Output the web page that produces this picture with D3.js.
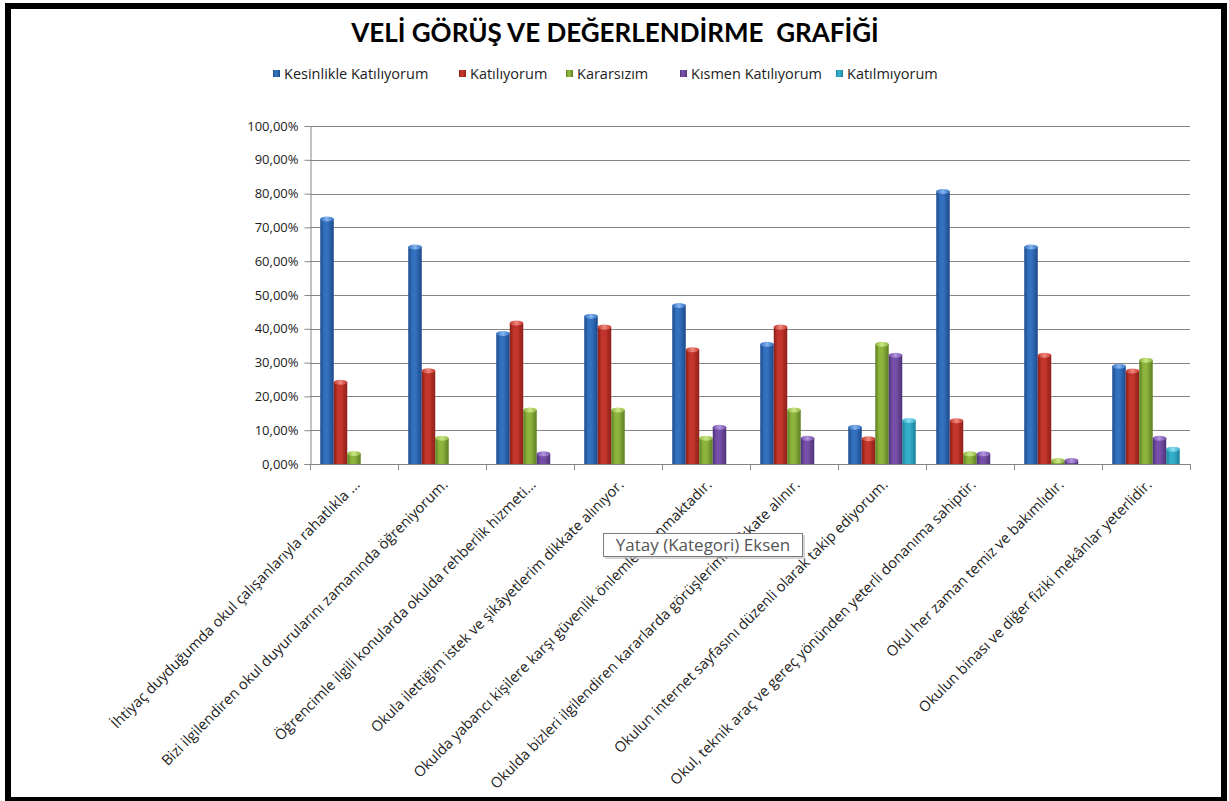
<!DOCTYPE html>
<html>
<head>
<meta charset="utf-8">
<script src="https://cdn.jsdelivr.net/npm/d3@7"></script>
<style>
  html, body { margin: 0; padding: 0; background: #fff; }
  svg { display: block; }
</style>
</head>
<body>
<svg id="chart" width="1229" height="801"></svg>
<script>
const title = "VELİ GÖRÜŞ VE DEĞERLENDİRME  GRAFİĞİ";
const categories = [
  "İhtiyaç duyduğumda okul çalışanlarıyla rahatlıkla ...",
  "Bizi ilgilendiren okul duyurularını zamanında öğreniyorum.",
  "Öğrencimle ilgili konularda okulda rehberlik hizmeti...",
  "Okula ilettiğim istek ve şikâyetlerim dikkate alınıyor.",
  "Okulda yabancı kişilere karşı güvenlik önlemleri alınmaktadır.",
  "Okulda bizleri ilgilendiren kararlarda görüşlerimiz dikkate alınır.",
  "Okulun internet sayfasını düzenli olarak takip ediyorum.",
  "Okul, teknik araç ve gereç yönünden yeterli donanıma sahiptir.",
  "Okul her zaman temiz ve bakımlıdır.",
  "Okulun binası ve diğer fiziki mekânlar yeterlidir."
];
const seriesNames = ["Kesinlikle Katılıyorum", "Katılıyorum", "Kararsızım", "Kısmen Katılıyorum", "Katılmıyorum"];
const kesinlikleKatiliyorum = [72.5, 64.2, 38.6, 43.7, 46.9, 35.4, 10.9, 80.6, 64.2, 28.9];
const katiliyorum           = [24.2, 27.6, 41.7, 40.5, 33.8, 40.5, 7.5, 12.8, 32.2, 27.5];
const kararsizim            = [3.1, 7.6, 16.0, 16.0, 7.6, 16.0, 35.4, 3.0, 1.0, 30.7];
const kismenKatiliyorum     = [0, 0, 3.0, 0, 10.9, 7.6, 32.2, 3.0, 1.0, 7.6];
const katilmiyorum          = [0, 0, 0, 0, 0, 0, 12.9, 0, 0, 4.4];
const yTicks = [0, 10, 20, 30, 40, 50, 60, 70, 80, 90, 100];
const tooltipText = "Yatay (Kategori) Eksen";

const seriesValues = [kesinlikleKatiliyorum, katiliyorum, kararsizim, kismenKatiliyorum, katilmiyorum];
const colors = ["#3470C0", "#C4352C", "#8DB43D", "#7650A8", "#33AFCB"];
const darks  = ["#1B4A8A", "#8A2018", "#5E7E23", "#4E3178", "#1C7F99"];
const lights = ["#86B4EE", "#EE8A80", "#CBE688", "#B094DC", "#8EDDEE"];

const svg = d3.select("#chart");
const font = "'Open Sans', Lato, sans-serif";

// frame
svg.append("rect").attr("x", 8).attr("y", 6).attr("width", 1216).attr("height", 794)
  .attr("fill", "#fff").attr("stroke", "#000").attr("stroke-width", 6);

// gradients
const defs = svg.append("defs");
seriesNames.forEach((s, i) => {
  const g = defs.append("linearGradient").attr("id", "grad" + i)
    .attr("x1", "0%").attr("x2", "100%").attr("y1", "0%").attr("y2", "0%");
  g.append("stop").attr("offset", "0%").attr("stop-color", darks[i]);
  g.append("stop").attr("offset", "30%").attr("stop-color", colors[i]);
  g.append("stop").attr("offset", "55%").attr("stop-color", colors[i]);
  g.append("stop").attr("offset", "100%").attr("stop-color", darks[i]);
  const c = defs.append("linearGradient").attr("id", "cap" + i)
    .attr("x1", "0%").attr("x2", "100%").attr("y1", "0%").attr("y2", "0%");
  c.append("stop").attr("offset", "0%").attr("stop-color", colors[i]);
  c.append("stop").attr("offset", "50%").attr("stop-color", lights[i]);
  c.append("stop").attr("offset", "100%").attr("stop-color", colors[i]);
});

const plotLeft = 310, plotRight = 1190, plotTop = 126, plotBottom = 464;
const x0 = d3.scaleBand().domain(categories).range([plotLeft, plotRight]).paddingInner(0).paddingOuter(0);
const x1 = d3.scaleBand().domain(seriesNames).range([0, x0.bandwidth()]).paddingInner(0).paddingOuter(0.76);
const y = d3.scaleLinear().domain([0, 100]).range([plotBottom, plotTop]);

// title
svg.append("text").attr("x", 615).attr("y", 42).attr("text-anchor", "middle")
  .attr("font-family", "Lato, 'Open Sans', sans-serif").attr("font-weight", "bold").attr("font-size", 26)
  .attr("fill", "#000").style("white-space", "pre").text(title);

// legend
const legendX = [273, 459, 566, 680, 836];
const lg = svg.append("g");
seriesNames.forEach((s, i) => {
  const it = lg.append("g").attr("transform", `translate(${legendX[i]},74)`);
  it.append("rect").attr("x", 0).attr("y", -4).attr("width", 7).attr("height", 7)
    .attr("fill", `url(#grad${i})`);
  it.append("text").attr("x", 11).attr("y", 4.5).attr("font-family", font)
    .attr("font-size", 14.5).attr("fill", "#222").text(s);
});

// gridlines
svg.append("g").selectAll("line").data(yTicks).join("line")
  .attr("x1", plotLeft).attr("x2", plotRight)
  .attr("y1", d => Math.round(y(d)) + 0.5).attr("y2", d => Math.round(y(d)) + 0.5)
  .attr("stroke", "#868686").attr("stroke-width", 1);

// y axis
const yAxis = d3.axisLeft(y).tickValues(yTicks).tickSize(6).tickPadding(6)
  .tickFormat(d => d3.format(".2f")(d).replace(".", ",") + "%");
const ya = svg.append("g").attr("transform", `translate(${plotLeft + 0.5},0)`).call(yAxis);
ya.select(".domain").attr("stroke", "#868686");
ya.selectAll(".tick line").attr("stroke", "#868686");
ya.selectAll(".tick text").attr("font-family", font).attr("font-size", 13).attr("fill", "#222");

// x axis line + ticks between categories
svg.append("line").attr("x1", plotLeft).attr("x2", plotRight)
  .attr("y1", Math.round(plotBottom) + 0.5).attr("y2", Math.round(plotBottom) + 0.5).attr("stroke", "#868686");
const boundaries = categories.map(c => x0(c)).concat([plotRight]);
svg.append("g").selectAll("line").data(boundaries).join("line")
  .attr("x1", d => Math.round(d) + 0.5).attr("x2", d => Math.round(d) + 0.5)
  .attr("y1", plotBottom).attr("y2", plotBottom + 6).attr("stroke", "#868686");

// bars
const barsG = svg.append("g");
categories.forEach((c, ci) => {
  seriesNames.forEach((s, si) => {
    const v = seriesValues[si][ci];
    if (!v) return;
    const bx = x0(c) + x1(s);
    const bw = x1.bandwidth();
    const capR = 2.5;
    barsG.append("rect").attr("x", bx).attr("y", y(v)).attr("width", bw)
      .attr("height", y(0) - y(v)).attr("fill", `url(#grad${si})`);
    barsG.append("ellipse").attr("cx", bx + bw / 2).attr("cy", y(v)).attr("rx", bw / 2).attr("ry", capR)
      .attr("fill", `url(#cap${si})`);
  });
});

// category labels
const angle = -45;
svg.append("g").selectAll("text").data(categories).join("text")
  .attr("transform", d => `translate(${x0(d) + x0.bandwidth() / 2 + 3},${plotBottom + 18}) rotate(${angle})`)
  .attr("text-anchor", "end").attr("dy", "0.35em")
  .attr("font-family", font).attr("font-size", 14.6).attr("fill", "#222")
  .text(d => d);

// tooltip
const tip = svg.append("g").attr("transform", "translate(603,533)");
tip.append("rect").attr("x", 2).attr("y", 2).attr("width", 200).attr("height", 24).attr("fill", "#bbb").attr("opacity", 0.6);
tip.append("rect").attr("x", 0.5).attr("y", 0.5).attr("width", 199).attr("height", 23)
  .attr("fill", "#fff").attr("stroke", "#7a7a7a");
tip.append("text").attr("x", 100).attr("y", 17.5).attr("text-anchor", "middle")
  .attr("font-family", font).attr("font-size", 17).attr("fill", "#555").text(tooltipText);
</script>
</body>
</html>
